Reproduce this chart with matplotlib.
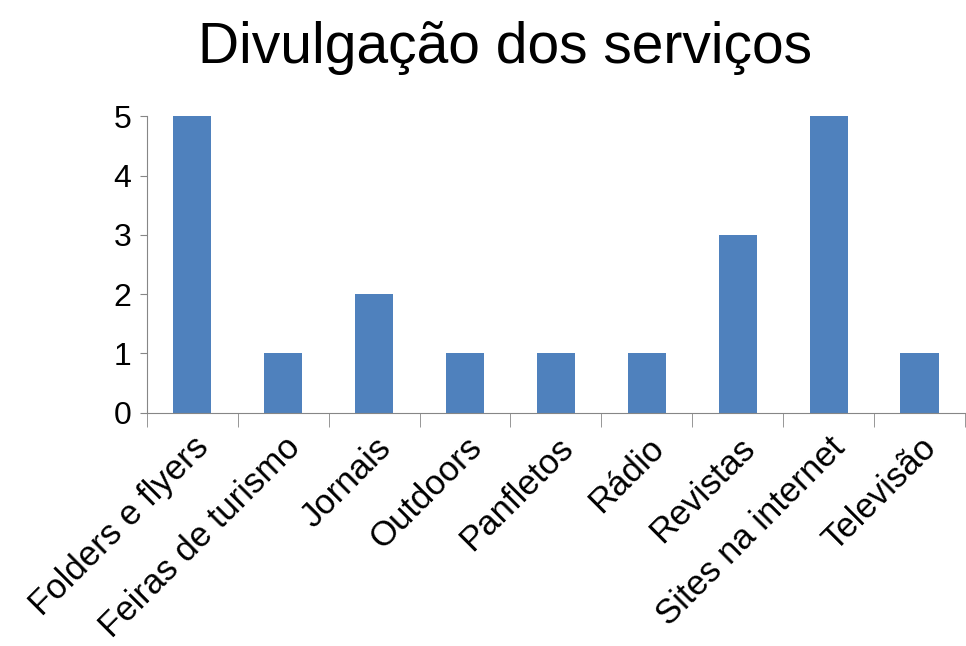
import numpy as np
import matplotlib.pyplot as plt
from matplotlib.ticker import FixedLocator

categories = ['Folders e flyers', 'Feiras de turismo', 'Jornais', 'Outdoors',
              'Panfletos', 'Rádio', 'Revistas', 'Sites na internet', 'Televisão']
values = [5, 1, 2, 1, 1, 1, 3, 5, 1]
yticks = [0, 1, 2, 3, 4, 5]

plt.rcParams['font.family'] = ['Liberation Sans', 'DejaVu Sans']

fig = plt.figure(figsize=(9.66, 6.46), dpi=100)
ax = fig.add_axes([0.152, 0.361, 0.847, 0.459])

x = np.arange(len(categories))
ax.bar(x, values, width=0.42, color='#4F81BD')

ax.set_xlim(-0.5, len(categories) - 0.5)
ax.set_ylim(0, 5)
ax.set_yticks(yticks)
ax.tick_params(axis='y', labelsize=23, length=5, color='#868686', pad=6)

ax.set_xticks(x)
ax.set_xticklabels(categories, rotation=45, ha='right', rotation_mode='anchor', fontsize=25)
ax.tick_params(axis='x', which='major', length=0, pad=13)
ax.xaxis.set_minor_locator(FixedLocator(np.arange(-0.5, len(categories), 1.0)))
ax.tick_params(axis='x', which='minor', length=10, color='#868686')

for s in ['top', 'right']:
    ax.spines[s].set_visible(False)
for s in ['left', 'bottom']:
    ax.spines[s].set_color('#868686')

fig.text(0.523, 0.925, 'Divulgação dos serviços', ha='center', va='center', fontsize=41)

fig.savefig('out.png', dpi=100)
